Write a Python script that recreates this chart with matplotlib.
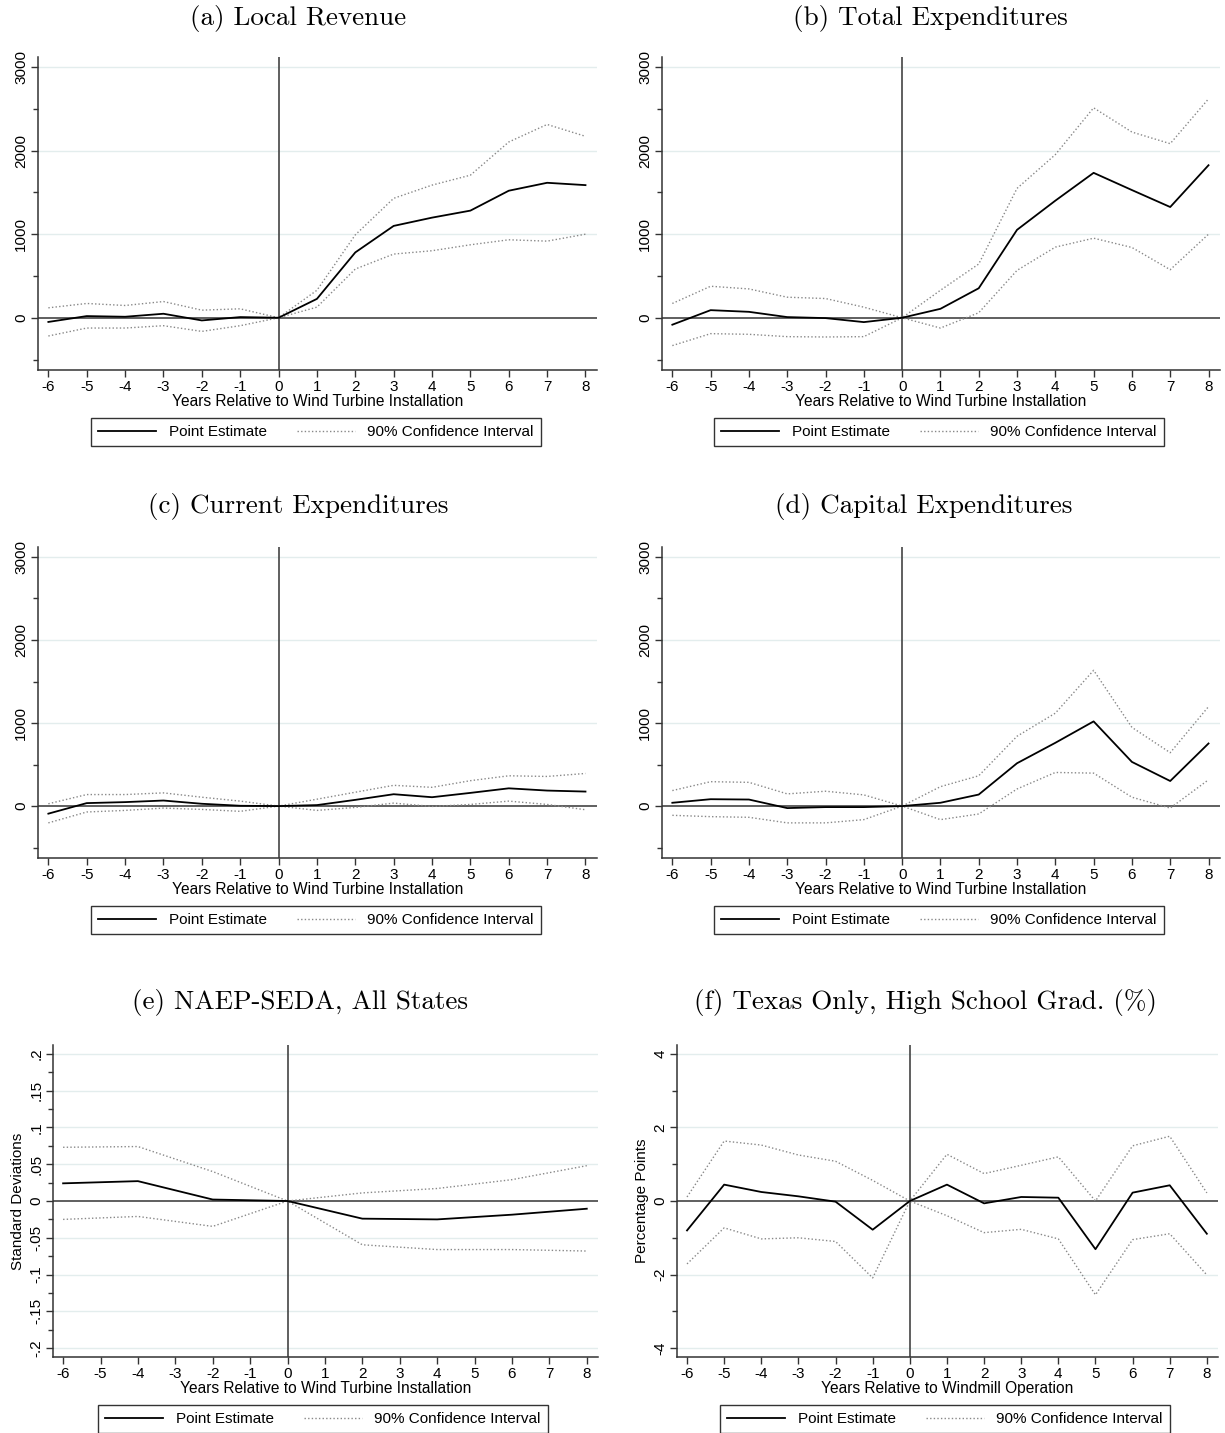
import matplotlib
matplotlib.use("Agg")
import matplotlib.pyplot as plt
from matplotlib.ticker import MultipleLocator, FixedLocator, FixedFormatter
from matplotlib.lines import Line2D

plt.rcParams['font.family'] = ['Liberation Sans', 'DejaVu Sans']
plt.rcParams['axes.unicode_minus'] = False

years = [-6, -5, -4, -3, -2, -1, 0, 1, 2, 3, 4, 5, 6, 7, 8]
years_even = [-6, -4, -2, 0, 2, 4, 6, 8]

# (a) Local Revenue
rev_est = [-50, 20, 12, 48, -32, 8, 0, 226, 782, 1099, 1198, 1282, 1520, 1615, 1587]
rev_hi = [119, 171, 147, 194, 91, 107, 0, 329, 992, 1429, 1587, 1706, 2103, 2313, 2171]
rev_lo = [-218, -123, -123, -95, -163, -95, 0, 127, 583, 762, 802, 873, 933, 917, 1000]

# (b) Total Expenditures
tot_est = [-83, 91, 71, 8, -4, -52, 0, 107, 353, 1052, 1401, 1734, 1528, 1325, 1825]
tot_hi = [171, 377, 345, 246, 230, 127, 0, 329, 643, 1548, 1952, 2512, 2222, 2083, 2619]
tot_lo = [-333, -190, -198, -226, -230, -226, 0, -123, 60, 567, 845, 952, 841, 575, 1000]

# (c) Current Expenditures
cur_est = [-91, 36, 48, 67, 28, 4, 0, 12, 75, 143, 107, 159, 214, 187, 175]
cur_hi = [28, 139, 139, 159, 107, 60, 0, 83, 167, 250, 226, 306, 365, 357, 393]
cur_lo = [-202, -71, -52, -24, -40, -63, 0, -52, -16, 36, -4, 20, 60, 20, -44]

# (d) Capital Expenditures
cap_est = [40, 83, 79, -24, -12, -12, 0, 40, 139, 516, 762, 1020, 532, 302, 754]
cap_hi = [187, 294, 286, 147, 179, 135, 0, 234, 365, 841, 1119, 1635, 948, 643, 1198]
cap_lo = [-111, -127, -135, -202, -202, -163, 0, -163, -95, 206, 405, 397, 107, -24, 317]

# (e) NAEP-SEDA, All States
naep_est = [0.024, 0.027, 0.002, 0, -0.024, -0.025, -0.0186, -0.0105]
naep_hi = [0.073, 0.074, 0.040, 0, 0.011, 0.017, 0.029, 0.048]
naep_lo = [-0.025, -0.021, -0.0345, 0, -0.0595, -0.066, -0.066, -0.068]

# (f) Texas Only, High School Grad. (%)
tx_est = [-0.80, 0.445, 0.245, 0.127, -0.018, -0.78, 0, 0.445, -0.064, 0.109, 0.09, -1.31, 0.227, 0.427, -0.89]
tx_hi = [0.11, 1.63, 1.52, 1.25, 1.08, 0.56, 0, 1.27, 0.745, 0.97, 1.2, 0.0, 1.5, 1.76, 0.22]
tx_lo = [-1.71, -0.73, -1.03, -1.0, -1.1, -2.09, 0, -0.4, -0.86, -0.77, -1.03, -2.55, -1.05, -0.89, -2.01]

money_ticks = [0, 1000, 2000, 3000]
money_labels = ['0', '1000', '2000', '3000']
sd_ticks = [-0.2, -0.15, -0.1, -0.05, 0, 0.05, 0.1, 0.15, 0.2]
sd_labels = ['-.2', '-.15', '-.1', '-.05', '0', '.05', '.1', '.15', '.2']
pp_ticks = [-4, -2, 0, 2, 4]
pp_labels = ['-4', '-2', '0', '2', '4']

W, H = 1225, 1433
fig = plt.figure(figsize=(W / 100, H / 100), dpi=100)

GRID = '#e3eded'
AXC = '#333333'
FS = 11


def panel(rect, x, est, hi, lo, title, title_xy, legend_xy, yticks, ylabels,
          ylim, minor, xlabel='Years Relative to Wind Turbine Installation', ylabel=None):
    l, t, r, b = rect
    ax = fig.add_axes([l / W, 1 - b / H, (r - l) / W, (b - t) / H])
    for yt in yticks:
        if yt != 0:
            ax.axhline(yt, color=GRID, lw=1, zorder=0)
    ax.axhline(0, color='#444444', lw=1.2, zorder=1)
    ax.axvline(0, color='#444444', lw=1.2, zorder=1)
    ax.plot(x, hi, color='#888888', lw=1, ls=(0, (1, 1.6)), zorder=2)
    ax.plot(x, lo, color='#888888', lw=1, ls=(0, (1, 1.6)), zorder=2)
    ax.plot(x, est, color='black', lw=1.3, zorder=3)

    ax.set_xlim(-6.27, 8.3)
    ax.set_ylim(*ylim)
    ax.set_xticks(years)
    ax.yaxis.set_major_locator(FixedLocator(yticks))
    ax.yaxis.set_major_formatter(FixedFormatter(ylabels))
    ax.yaxis.set_minor_locator(MultipleLocator(minor))
    for s in ['top', 'right']:
        ax.spines[s].set_visible(False)
    for s in ['left', 'bottom']:
        ax.spines[s].set_color(AXC)
        ax.spines[s].set_linewidth(1.1)
    ax.tick_params(axis='both', which='major', length=5, width=1, color=AXC, labelsize=FS, pad=2)
    ax.tick_params(axis='y', which='minor', length=3.5, width=1, color=AXC)
    for lbl in ax.get_yticklabels():
        lbl.set_rotation(90)
        lbl.set_va('center')
    ax.set_xlabel(xlabel, fontsize=FS + 0.2, labelpad=0)
    if ylabel:
        ax.set_ylabel(ylabel, fontsize=FS, labelpad=3)

    fig.text(title_xy[0] / W, 1 - title_xy[1] / H, title, ha='center', va='center',
             fontsize=19.5, family=['cmr10', 'DejaVu Serif'])

    handles = [Line2D([], [], color='black', lw=1.3),
               Line2D([], [], color='#888888', lw=1, ls=(0, (1, 1.6)))]
    leg = ax.legend(handles, ['Point Estimate', '90% Confidence Interval'], ncol=2,
                    loc='center', bbox_to_anchor=(legend_xy[0] / W, 1 - legend_xy[1] / H),
                    bbox_transform=fig.transFigure, fancybox=False, frameon=True,
                    edgecolor='black', fontsize=FS, handlelength=3.8, handletextpad=0.8,
                    columnspacing=2.0, borderpad=0.45, borderaxespad=0)
    leg.get_frame().set_linewidth(1)
    return ax


money_lim = (-625, 3120)
panel((38, 57, 597, 370), years, rev_est, rev_hi, rev_lo, '(a) Local Revenue', (298, 18), (316, 432),
      money_ticks, money_labels, money_lim, 500)
panel((662, 57, 1220, 370), years, tot_est, tot_hi, tot_lo, '(b) Total Expenditures', (930, 18), (939, 432),
      money_ticks, money_labels, money_lim, 500)
panel((38, 547, 597, 858), years, cur_est, cur_hi, cur_lo, '(c) Current Expenditures', (298, 506), (316, 920),
      money_ticks, money_labels, money_lim, 500)
panel((662, 547, 1220, 858), years, cap_est, cap_hi, cap_lo, '(d) Capital Expenditures', (924, 506), (939, 920),
      money_ticks, money_labels, money_lim, 500)
panel((53, 1045, 598, 1357), years_even, naep_est, naep_hi, naep_lo, '(e) NAEP-SEDA, All States', (300, 1003),
      (323, 1419), sd_ticks, sd_labels, (-0.212, 0.212), 0.025, ylabel='Standard Deviations')
panel((677, 1045, 1218, 1357), years, tx_est, tx_hi, tx_lo, '(f) Texas Only, High School Grad. (%)', (925, 1003),
      (945, 1419), pp_ticks, pp_labels, (-4.24, 4.24), 1,
      xlabel='Years Relative to Windmill Operation', ylabel='Percentage Points')

fig.savefig('out.png', dpi=100, facecolor='white')
